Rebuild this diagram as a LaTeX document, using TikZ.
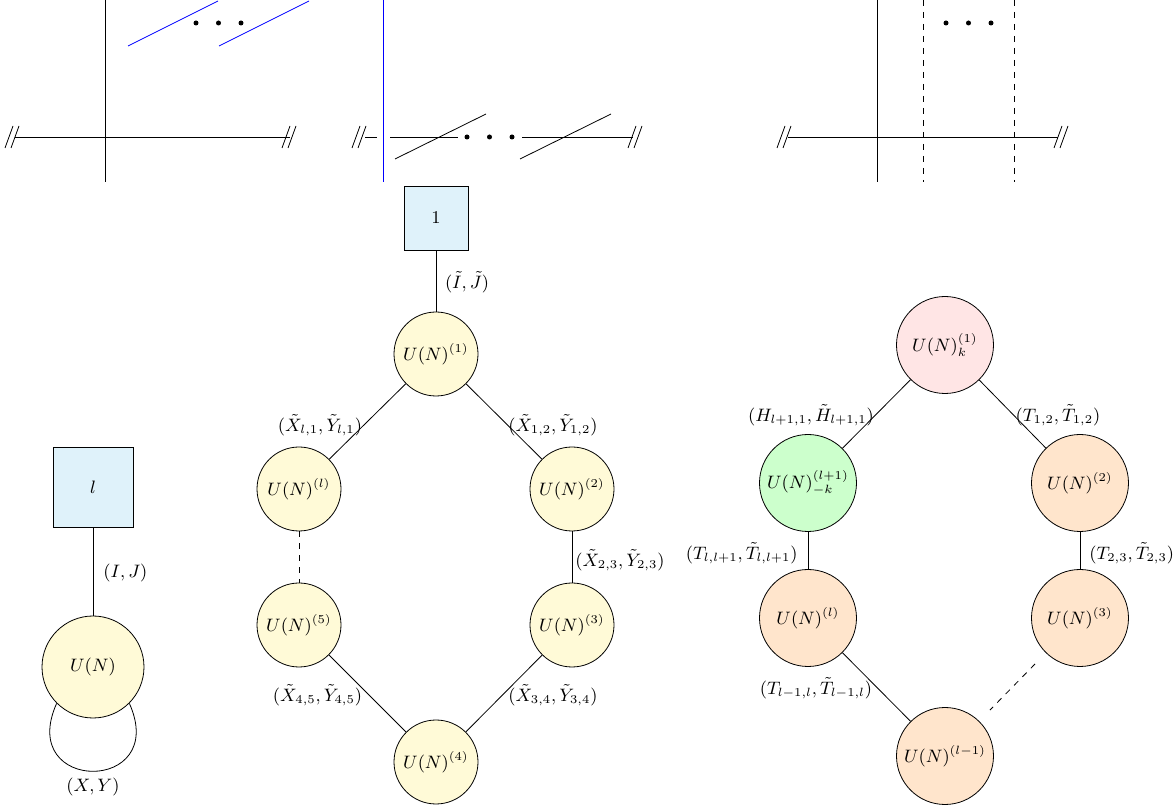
\documentclass[tikz,border=0pt]{standalone}
\usepackage{amsmath,amssymb}
\usetikzlibrary{calc}
\definecolor{flavblue}{RGB}{223,242,250}
\definecolor{gaugeyel}{RGB}{255,250,215}
\newcommand{\brkmark}[2]{\draw[shift={(#1,#2)}] (-3.5,-5.5) -- (0.5,5.5) (-0.5,-5.5) -- (3.5,5.5);}
\newcommand{\dotrow}[2]{\fill (#1,#2) circle (1.25pt) (#1+11.25,#2) circle (1.25pt) (#1+22.5,#2) circle (1.25pt);}

\begin{document}
\begin{tikzpicture}[x=1pt,y=1pt,font=\small,
  gauge/.style={circle,draw,inner sep=0pt},
  flav/.style={rectangle,draw,fill=flavblue,inner sep=0pt},
  lbl/.style={inner sep=1pt}]
\useasboundingbox (0,0) rectangle (587.5,405);
% Drawing branes: first picture
\draw (52.5,405) -- (52.5,314);
\draw (7.5,336.5) -- (145,336.5);
\brkmark{6}{336.5}
\brkmark{144.5}{336.5}
\draw[blue] (64,382) -- (109,404.5);
\draw[blue] (109.5,382) -- (154.5,404.5);
\dotrow{98}{393.5}
% Second picture
\draw[blue] (191.5,405) -- (191.5,314);
\draw (182.5,336.5) -- (188.5,336.5);
\draw (195,336.5) -- (229,336.5);
\draw (261,336.5) -- (316.5,336.5);
\brkmark{179.5}{336.5}
\brkmark{317.5}{336.5}
\draw (197.5,325.5) -- (243,348);
\draw (260,325.5) -- (305.5,348);
\dotrow{233.5}{336.5}
% Third picture
\draw (438.5,405) -- (438.5,314);
\draw[dashed] (461.5,405) -- (461.5,314);
\draw[dashed] (507,405) -- (507,314);
\draw (394,336.5) -- (529,336.5);
\brkmark{392}{336.5}
\brkmark{530.5}{336.5}
\dotrow{473}{393.5}
% Done with branes; drawing quivers
% Quiver 1: U(N) with l flavours
\node[flav,minimum size=40pt] (fl) at (46.5,161.5) {$l$};
\node[gauge,fill=gaugeyel,minimum size=51pt] (UN) at (46.5,71.5) {$U(N)$};
\draw (fl) -- (UN);
\draw (UN.-135) .. controls (8,8) and (85,8) .. (UN.-45);
\node[lbl,anchor=west] (IJ) at (50.5,118.5) {$(I,J)$};
\node[lbl] (XY) at (46.5,11.5) {$(X,Y)$};
% Quiver 2: necklace with one flavour
\node[flav,minimum size=32pt] (f1) at (218,296) {$1$};
\node[gauge,fill=gaugeyel,minimum size=42pt] (Ua) at (218,228) {$U(N)^{(1)}$};
\node[gauge,fill=gaugeyel,minimum size=42pt] (Ul) at (149.5,160.5) {$U(N)^{(l)}$};
\node[gauge,fill=gaugeyel,minimum size=42pt] (Ub) at (286,160.5) {$U(N)^{(2)}$};
\node[gauge,fill=gaugeyel,minimum size=42pt] (Ue) at (149.5,92.5) {$U(N)^{(5)}$};
\node[gauge,fill=gaugeyel,minimum size=42pt] (Uc) at (286,92.5) {$U(N)^{(3)}$};
\node[gauge,fill=gaugeyel,minimum size=42pt] (Ud) at (218,24) {$U(N)^{(4)}$};
\draw (f1) -- (Ua);
\draw (Ua) -- (Ul);
\draw (Ua) -- (Ub);
\draw[dashed] (Ul) -- (Ue);
\draw (Ub) -- (Uc);
\draw (Ue) -- (Ud);
\draw (Uc) -- (Ud);
\node[lbl,anchor=west] (tIJ) at (221.3,264) {$(\tilde{I},\tilde{J})$};
\node[lbl] (XYl1) at (160,192.5) {$(\tilde{X}_{l,1},\tilde{Y}_{l,1})$};
\node[lbl] (XY12) at (276.5,192.5) {$(\tilde{X}_{1,2},\tilde{Y}_{1,2})$};
\node[lbl] (XY23) at (310,125) {$(\tilde{X}_{2,3},\tilde{Y}_{2,3})$};
\node[lbl] (XY45) at (158.75,57.5) {$(\tilde{X}_{4,5},\tilde{Y}_{4,5})$};
\node[lbl] (XY34) at (276.5,57.5) {$(\tilde{X}_{3,4},\tilde{Y}_{3,4})$};
% Quiver 3: necklace with Chern-Simons levels
\node[gauge,fill=red!10,minimum size=48.5pt] (Va) at (472.5,232.5) {$U(N)^{(1)}_{k}$};
\node[gauge,fill=green!20,minimum size=48.5pt] (Vm) at (404,163.5) {$U(N)^{(l+1)}_{-k}$};
\node[gauge,fill=orange!20,minimum size=48.5pt] (Vb) at (540,163.5) {$U(N)^{(2)}$};
\node[gauge,fill=orange!20,minimum size=48.5pt] (Vl) at (404,96) {$U(N)^{(l)}$};
\node[gauge,fill=orange!20,minimum size=48.5pt] (Vc) at (540,96) {$U(N)^{(3)}$};
\node[gauge,fill=orange!20,minimum size=48.5pt] (Vk) at (472.5,27) {$U(N)^{(l-1)}$};
\coordinate (dA) at ($(Vc)!0.333!(Vk)$);
\coordinate (dB) at ($(Vc)!0.667!(Vk)$);
\draw (Va) -- (Vm);
\draw (Va) -- (Vb);
\draw (Vm) -- (Vl);
\draw (Vb) -- (Vc);
\draw (Vl) -- (Vk);
\draw[dashed] (dA) -- (dB);
\node[lbl] (Hl1) at (405.5,197.5) {$(H_{l+1,1},\tilde{H}_{l+1,1})$};
\node[lbl] (T12) at (529,197.5) {$(T_{1,2},\tilde{T}_{1,2})$};
\node[lbl,anchor=east] (Tll) at (400,128.5) {$(T_{l,l+1},\tilde{T}_{l,l+1})$};
\node[lbl,anchor=west] (T23) at (543.5,128.5) {$(T_{2,3},\tilde{T}_{2,3})$};
\node[lbl] (Tml) at (408,61) {$(T_{l-1,l},\tilde{T}_{l-1,l})$};
% Done with quivers
\end{tikzpicture}
\end{document}
